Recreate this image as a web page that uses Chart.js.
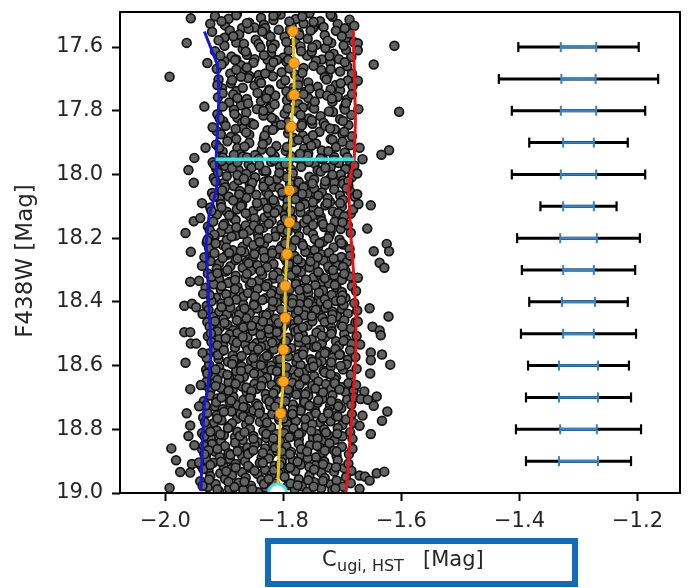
<!DOCTYPE html>
<html><head><meta charset="utf-8">
<script src="https://cdn.jsdelivr.net/npm/chart.js@4.4.1/dist/chart.umd.min.js"></script>
<style>html,body{margin:0;padding:0;background:#fff;}#wrap{width:692px;height:588px;position:relative;}</style>
</head><body><div id="wrap"><canvas id="c" width="692" height="588"></canvas></div>
<script>
// ---------- data ----------
const xTicks = [-2.0, -1.8, -1.6, -1.4, -1.2];
const yTicks = [17.6, 17.8, 18.0, 18.2, 18.4, 18.6, 18.8, 19.0];

// stars: [C_ugi,HST, F438W]
const starsUpper = [
[-1.924,17.527],[-1.916,17.503],[-1.899,17.532],[-1.893,17.511],[-1.879,17.496],[-1.858,17.524],[-1.849,17.539],[-1.838,17.508],[-1.833,17.530],[-1.817,17.515],[-1.805,17.498],[-1.786,17.535],[-1.779,17.512],[-1.766,17.526],[-1.756,17.494],[-1.738,17.519],[-1.732,17.537],[-1.717,17.505],[-1.708,17.528],[-1.688,17.514],[-1.680,17.533],[-1.870,17.540],[-1.812,17.491],[-1.748,17.536],
[-1.921,17.552],[-1.900,17.571],[-1.891,17.548],[-1.880,17.586],[-1.875,17.561],[-1.859,17.543],[-1.847,17.577],[-1.828,17.559],[-1.821,17.589],[-1.808,17.546],[-1.798,17.568],[-1.780,17.583],[-1.774,17.555],[-1.759,17.574],[-1.750,17.541],[-1.730,17.563],[-1.719,17.587],[-1.711,17.549],[-1.694,17.572],[-1.688,17.558],[-1.681,17.584],[-1.842,17.590],[-1.789,17.545],
[-1.916,17.613],[-1.900,17.596],[-1.888,17.630],[-1.869,17.607],[-1.862,17.624],[-1.849,17.638],[-1.839,17.601],[-1.821,17.619],[-1.815,17.592],[-1.800,17.633],[-1.791,17.611],[-1.771,17.598],[-1.760,17.627],[-1.752,17.615],[-1.735,17.639],[-1.729,17.603],[-1.715,17.621],[-1.694,17.609],[-1.685,17.631],[-1.880,17.639],[-1.827,17.640],[-1.744,17.593],[-1.706,17.638],
[-1.913,17.668],[-1.900,17.645],[-1.890,17.683],[-1.872,17.657],[-1.866,17.675],[-1.851,17.649],[-1.842,17.688],[-1.822,17.662],[-1.811,17.641],[-1.803,17.679],[-1.786,17.654],[-1.780,17.686],[-1.766,17.666],[-1.745,17.643],[-1.736,17.672],[-1.725,17.690],[-1.720,17.651],[-1.704,17.677],[-1.692,17.660],[-1.684,17.684],[-1.858,17.690],[-1.795,17.646],
[-1.910,17.702],[-1.904,17.729],[-1.889,17.714],[-1.880,17.738],[-1.860,17.697],[-1.849,17.721],[-1.841,17.706],[-1.824,17.733],[-1.818,17.692],[-1.804,17.716],[-1.783,17.728],[-1.774,17.699],[-1.763,17.740],[-1.758,17.711],[-1.742,17.725],[-1.730,17.694],[-1.711,17.719],[-1.704,17.736],[-1.691,17.705],[-1.683,17.723],[-1.872,17.693],[-1.795,17.739],[-1.720,17.733],
[-1.911,17.758],[-1.892,17.774],[-1.885,17.749],[-1.872,17.783],[-1.862,17.763],[-1.844,17.744],[-1.838,17.770],[-1.823,17.788],[-1.814,17.752],[-1.794,17.767],[-1.783,17.741],[-1.775,17.779],[-1.758,17.760],[-1.752,17.786],[-1.738,17.746],[-1.717,17.772],[-1.708,17.756],[-1.697,17.789],[-1.692,17.765],[-1.684,17.748],[-1.903,17.787],[-1.828,17.746],[-1.767,17.790],[-1.726,17.752],
[-1.912,17.811],[-1.902,17.833],[-1.884,17.797],[-1.878,17.822],[-1.863,17.806],[-1.854,17.839],[-1.834,17.815],[-1.823,17.792],[-1.815,17.829],[-1.798,17.809],[-1.792,17.836],[-1.778,17.801],[-1.757,17.824],[-1.748,17.793],[-1.737,17.817],[-1.732,17.838],[-1.716,17.804],[-1.704,17.827],[-1.685,17.813],[-1.845,17.795],[-1.768,17.840],[-1.696,17.796],[-1.870,17.838],
[-1.913,17.864],[-1.898,17.847],[-1.889,17.882],[-1.869,17.856],[-1.858,17.875],[-1.850,17.843],[-1.833,17.888],[-1.827,17.861],[-1.813,17.849],[-1.792,17.871],[-1.783,17.885],[-1.772,17.852],[-1.767,17.878],[-1.751,17.841],[-1.739,17.866],[-1.720,17.889],[-1.713,17.858],[-1.700,17.873],[-1.690,17.845],[-1.880,17.889],[-1.804,17.844],[-1.760,17.890],[-1.729,17.847],[-1.684,17.880],
[-1.914,17.906],[-1.903,17.928],[-1.895,17.896],[-1.878,17.917],[-1.872,17.936],[-1.858,17.901],[-1.837,17.922],[-1.828,17.893],[-1.817,17.938],[-1.812,17.911],[-1.796,17.926],[-1.784,17.898],[-1.765,17.919],[-1.758,17.934],[-1.745,17.903],[-1.735,17.925],[-1.717,17.891],[-1.711,17.914],[-1.696,17.931],[-1.687,17.908],[-1.848,17.939],[-1.775,17.892]
];
const starsMiddle = [
[-1.920,17.962],[-1.914,17.981],[-1.903,17.947],[-1.899,17.973],[-1.890,17.956],[-1.876,17.986],[-1.869,17.944],[-1.859,17.968],[-1.854,17.979],[-1.842,17.951],[-1.834,17.989],[-1.821,17.960],[-1.815,17.942],[-1.806,17.975],[-1.791,17.958],[-1.787,17.984],[-1.776,17.949],[-1.769,17.970],[-1.759,17.941],[-1.747,17.966],[-1.742,17.987],[-1.733,17.953],[-1.720,17.977],[-1.714,17.945],[-1.706,17.964],[-1.695,17.983],[-1.688,17.957],[-1.680,17.972],
[-1.918,18.011],[-1.911,17.994],[-1.901,18.027],[-1.896,18.005],[-1.884,18.036],[-1.876,18.018],[-1.863,17.998],[-1.857,18.031],[-1.848,18.009],[-1.833,18.024],[-1.829,17.992],[-1.818,18.039],[-1.811,18.014],[-1.801,18.003],[-1.789,18.029],[-1.784,17.996],[-1.775,18.021],[-1.762,18.037],[-1.756,18.007],[-1.748,18.016],[-1.737,17.991],[-1.730,18.033],[-1.720,18.012],[-1.714,18.025],[-1.703,18.000],[-1.699,18.019],[-1.690,18.035],[-1.684,18.008],
[-1.921,18.058],[-1.908,18.077],[-1.902,18.046],[-1.893,18.069],[-1.878,18.085],[-1.874,18.052],[-1.863,18.073],[-1.856,18.041],[-1.846,18.064],[-1.834,18.088],[-1.829,18.055],[-1.820,18.079],[-1.807,18.043],[-1.801,18.067],[-1.793,18.082],[-1.782,18.049],[-1.775,18.071],[-1.765,18.090],[-1.759,18.060],[-1.748,18.044],[-1.744,18.075],[-1.735,18.057],[-1.721,18.086],[-1.714,18.047],[-1.704,18.066],[-1.699,18.080],[-1.687,18.053],[-1.679,18.070],
[-1.924,18.104],[-1.913,18.126],[-1.906,18.093],[-1.896,18.117],[-1.884,18.138],[-1.879,18.109],[-1.870,18.096],[-1.857,18.131],[-1.851,18.114],[-1.843,18.099],[-1.832,18.135],[-1.825,18.121],[-1.815,18.091],[-1.809,18.111],[-1.798,18.128],[-1.794,18.102],[-1.785,18.139],[-1.771,18.119],[-1.764,18.094],[-1.754,18.125],[-1.749,18.107],[-1.737,18.133],[-1.729,18.097],[-1.716,18.116],[-1.710,18.137],[-1.701,18.101],[-1.686,18.123],[-1.682,18.110],
[-1.928,18.163],[-1.919,18.148],[-1.906,18.181],[-1.900,18.155],[-1.892,18.172],[-1.881,18.143],[-1.874,18.186],[-1.864,18.160],[-1.858,18.176],[-1.847,18.150],[-1.843,18.189],[-1.834,18.167],[-1.820,18.145],[-1.813,18.178],[-1.803,18.157],[-1.798,18.184],[-1.786,18.141],[-1.778,18.169],[-1.765,18.152],[-1.759,18.175],[-1.750,18.188],[-1.735,18.146],[-1.731,18.165],[-1.720,18.180],[-1.713,18.149],[-1.703,18.171],[-1.691,18.159],[-1.686,18.183],
[-1.930,18.214],[-1.926,18.232],[-1.917,18.197],[-1.903,18.221],[-1.896,18.206],[-1.886,18.238],[-1.881,18.192],[-1.869,18.227],[-1.861,18.210],[-1.848,18.235],[-1.842,18.200],[-1.833,18.218],[-1.818,18.239],[-1.814,18.195],[-1.803,18.224],[-1.796,18.208],[-1.786,18.230],[-1.774,18.193],[-1.769,18.216],[-1.760,18.236],[-1.747,18.203],[-1.741,18.226],[-1.733,18.211],[-1.722,18.191],[-1.715,18.229],[-1.705,18.205],[-1.699,18.220],[-1.688,18.234],
[-1.929,18.262],[-1.917,18.247],[-1.909,18.279],[-1.896,18.253],[-1.890,18.288],[-1.881,18.269],[-1.866,18.244],[-1.862,18.275],[-1.851,18.258],[-1.844,18.285],[-1.834,18.241],[-1.822,18.266],[-1.817,18.281],[-1.808,18.250],[-1.795,18.272],[-1.789,18.289],[-1.781,18.256],[-1.770,18.277],[-1.763,18.243],[-1.753,18.264],[-1.747,18.283],[-1.736,18.251],[-1.732,18.270],[-1.723,18.246],[-1.709,18.286],[-1.702,18.259],[-1.692,18.274],[-1.687,18.255],
[-1.928,18.311],[-1.913,18.296],[-1.909,18.328],[-1.898,18.305],[-1.891,18.337],[-1.881,18.318],[-1.869,18.293],[-1.864,18.324],[-1.855,18.302],[-1.842,18.333],[-1.836,18.314],[-1.828,18.291],[-1.817,18.327],[-1.810,18.308],[-1.800,18.339],[-1.794,18.299],[-1.783,18.320],[-1.779,18.335],[-1.770,18.306],[-1.756,18.292],[-1.749,18.323],[-1.739,18.313],[-1.734,18.338],[-1.722,18.297],[-1.714,18.317],[-1.701,18.331],[-1.695,18.303],[-1.686,18.321]
];
const starsLower = [
[-1.932,18.356],[-1.927,18.374],[-1.918,18.345],[-1.914,18.387],[-1.906,18.362],[-1.894,18.341],[-1.888,18.379],[-1.878,18.353],[-1.875,18.368],[-1.868,18.384],[-1.857,18.347],[-1.852,18.371],[-1.844,18.359],[-1.831,18.389],[-1.827,18.343],[-1.818,18.365],[-1.812,18.381],[-1.802,18.350],[-1.795,18.376],[-1.790,18.361],[-1.779,18.344],[-1.771,18.386],[-1.767,18.357],[-1.758,18.372],[-1.746,18.348],[-1.740,18.383],[-1.733,18.364],[-1.723,18.342],[-1.718,18.378],[-1.710,18.355],[-1.701,18.369],[-1.695,18.388],[-1.684,18.351],[-1.677,18.366],
[-1.930,18.412],[-1.922,18.398],[-1.909,18.431],[-1.905,18.405],[-1.896,18.439],[-1.890,18.418],[-1.880,18.393],[-1.873,18.426],[-1.868,18.409],[-1.857,18.436],[-1.849,18.401],[-1.845,18.421],[-1.836,18.394],[-1.824,18.433],[-1.818,18.415],[-1.811,18.403],[-1.801,18.428],[-1.796,18.391],[-1.788,18.417],[-1.779,18.438],[-1.773,18.407],[-1.762,18.424],[-1.755,18.396],[-1.750,18.413],[-1.741,18.435],[-1.737,18.400],[-1.729,18.419],[-1.717,18.430],[-1.711,18.397],[-1.701,18.422],[-1.698,18.410],[-1.691,18.437],[-1.680,18.404],[-1.675,18.427],
[-1.929,18.463],[-1.920,18.447],[-1.908,18.481],[-1.902,18.455],[-1.895,18.472],[-1.885,18.489],[-1.880,18.444],[-1.872,18.468],[-1.863,18.451],[-1.857,18.485],[-1.846,18.459],[-1.839,18.476],[-1.834,18.441],[-1.825,18.466],[-1.821,18.487],[-1.813,18.453],[-1.801,18.478],[-1.795,18.449],[-1.785,18.470],[-1.782,18.483],[-1.775,18.457],[-1.764,18.442],[-1.759,18.474],[-1.751,18.461],[-1.738,18.488],[-1.734,18.450],[-1.725,18.467],[-1.719,18.480],[-1.709,18.446],[-1.702,18.471],[-1.697,18.458],[-1.686,18.484],[-1.678,18.464],[-1.810,18.490],
[-1.928,18.508],[-1.922,18.526],[-1.912,18.493],[-1.909,18.517],[-1.902,18.538],[-1.891,18.502],[-1.886,18.521],[-1.878,18.497],[-1.865,18.533],[-1.861,18.511],[-1.852,18.491],[-1.846,18.529],[-1.836,18.515],[-1.829,18.536],[-1.824,18.499],[-1.813,18.522],[-1.805,18.506],[-1.801,18.539],[-1.792,18.513],[-1.780,18.494],[-1.774,18.527],[-1.767,18.504],[-1.757,18.534],[-1.752,18.518],[-1.744,18.496],[-1.735,18.530],[-1.729,18.510],[-1.718,18.492],[-1.711,18.524],[-1.706,18.537],[-1.697,18.501],[-1.693,18.519],[-1.685,18.532],[-1.676,18.507],
[-1.927,18.562],[-1.917,18.547],[-1.910,18.579],[-1.905,18.555],[-1.894,18.588],[-1.886,18.568],[-1.882,18.543],[-1.873,18.574],[-1.861,18.551],[-1.855,18.585],[-1.848,18.560],[-1.838,18.541],[-1.833,18.577],[-1.825,18.566],[-1.816,18.549],[-1.810,18.583],[-1.799,18.558],[-1.792,18.571],[-1.787,18.545],[-1.778,18.589],[-1.774,18.564],[-1.766,18.553],[-1.754,18.580],[-1.748,18.542],[-1.738,18.569],[-1.735,18.586],[-1.728,18.556],[-1.717,18.575],[-1.712,18.548],[-1.704,18.565],[-1.691,18.582],[-1.687,18.552],[-1.678,18.573],
[-1.931,18.613],[-1.926,18.597],[-1.918,18.631],[-1.909,18.606],[-1.903,18.624],[-1.892,18.639],[-1.885,18.592],[-1.880,18.618],[-1.871,18.603],[-1.867,18.635],[-1.859,18.611],[-1.847,18.594],[-1.841,18.627],[-1.831,18.609],[-1.828,18.638],[-1.821,18.600],[-1.810,18.621],[-1.805,18.593],[-1.797,18.629],[-1.784,18.615],[-1.780,18.636],[-1.771,18.598],[-1.765,18.622],[-1.755,18.607],[-1.748,18.633],[-1.743,18.591],[-1.732,18.617],[-1.724,18.626],[-1.720,18.604],[-1.711,18.637],[-1.699,18.612],[-1.693,18.596],[-1.686,18.628],[-1.676,18.610],
[-1.932,18.662],[-1.924,18.679],[-1.912,18.645],[-1.906,18.670],[-1.896,18.687],[-1.893,18.652],[-1.886,18.675],[-1.875,18.641],[-1.870,18.666],[-1.862,18.684],[-1.849,18.657],[-1.845,18.673],[-1.836,18.648],[-1.830,18.689],[-1.820,18.660],[-1.813,18.677],[-1.808,18.643],[-1.797,18.668],[-1.789,18.685],[-1.785,18.654],[-1.776,18.671],[-1.764,18.646],[-1.758,18.681],[-1.751,18.663],[-1.741,18.650],[-1.736,18.688],[-1.728,18.658],[-1.719,18.674],[-1.713,18.644],[-1.702,18.667],[-1.695,18.683],[-1.690,18.655],[-1.681,18.678],[-1.677,18.661],
[-1.935,18.712],[-1.924,18.694],[-1.916,18.728],[-1.912,18.703],[-1.903,18.737],[-1.891,18.716],[-1.885,18.698],[-1.878,18.724],[-1.868,18.708],[-1.863,18.733],[-1.855,18.692],[-1.846,18.719],[-1.840,18.740],[-1.829,18.705],[-1.822,18.726],[-1.817,18.697],[-1.808,18.714],[-1.804,18.735],[-1.796,18.701],[-1.784,18.722],[-1.778,18.691],[-1.768,18.730],[-1.765,18.710],[-1.758,18.696],[-1.747,18.738],[-1.742,18.717],[-1.734,18.704],[-1.721,18.727],[-1.717,18.693],[-1.708,18.720],[-1.702,18.734],[-1.692,18.707],[-1.685,18.723],[-1.680,18.700],
[-1.936,18.763],[-1.929,18.748],[-1.918,18.781],[-1.913,18.756],[-1.905,18.772],[-1.892,18.789],[-1.888,18.744],[-1.879,18.767],[-1.873,18.751],[-1.863,18.785],[-1.856,18.759],[-1.851,18.741],[-1.840,18.776],[-1.832,18.764],[-1.828,18.787],[-1.819,18.753],[-1.807,18.770],[-1.801,18.746],[-1.794,18.783],[-1.784,18.758],[-1.779,18.774],[-1.771,18.742],[-1.762,18.788],[-1.756,18.761],[-1.745,18.750],[-1.738,18.779],[-1.733,18.766],[-1.724,18.743],[-1.720,18.775],[-1.712,18.757],[-1.700,18.786],[-1.694,18.769],[-1.684,18.752],[-1.681,18.780],
[-1.938,18.812],[-1.929,18.795],[-1.923,18.829],[-1.913,18.804],[-1.906,18.837],[-1.901,18.818],[-1.890,18.792],[-1.882,18.825],[-1.878,18.808],[-1.869,18.834],[-1.857,18.799],[-1.851,18.821],[-1.844,18.840],[-1.834,18.806],[-1.829,18.827],[-1.821,18.793],[-1.812,18.815],[-1.806,18.838],[-1.795,18.802],[-1.788,18.823],[-1.783,18.797],[-1.774,18.831],[-1.770,18.810],[-1.762,18.791],[-1.750,18.826],[-1.744,18.814],[-1.734,18.836],[-1.731,18.800],[-1.724,18.819],[-1.713,18.833],[-1.708,18.796],[-1.700,18.822],[-1.687,18.809],[-1.683,18.830],
[-1.938,18.862],[-1.931,18.879],[-1.921,18.846],[-1.916,18.870],[-1.908,18.887],[-1.899,18.853],[-1.893,18.875],[-1.882,18.842],[-1.875,18.866],[-1.870,18.884],[-1.861,18.857],[-1.857,18.873],[-1.849,18.848],[-1.837,18.889],[-1.831,18.860],[-1.821,18.877],[-1.818,18.843],[-1.811,18.868],[-1.800,18.885],[-1.795,18.854],[-1.787,18.871],[-1.774,18.845],[-1.770,18.881],[-1.761,18.863],[-1.755,18.850],[-1.745,18.888],[-1.738,18.858],[-1.733,18.874],[-1.722,18.844],[-1.714,18.867],[-1.710,18.883],[-1.701,18.855],[-1.689,18.878],[-1.683,18.861],
[-1.940,18.913],[-1.931,18.896],[-1.927,18.929],[-1.919,18.905],[-1.907,18.938],[-1.901,18.918],[-1.891,18.893],[-1.888,18.924],[-1.881,18.909],[-1.870,18.935],[-1.865,18.900],[-1.857,18.921],[-1.844,18.940],[-1.840,18.906],[-1.831,18.927],[-1.825,18.892],[-1.815,18.915],[-1.808,18.937],[-1.803,18.903],[-1.792,18.923],[-1.784,18.898],[-1.780,18.931],[-1.771,18.911],[-1.759,18.891],[-1.753,18.926],[-1.746,18.914],[-1.736,18.936],[-1.731,18.901],[-1.723,18.920],[-1.714,18.933],[-1.708,18.897],[-1.697,18.922],[-1.690,18.908],[-1.685,18.930],
[-1.941,18.963],[-1.928,18.981],[-1.924,18.947],[-1.915,18.972],[-1.909,18.995],[-1.899,18.955],[-1.892,18.986],[-1.887,18.944],[-1.876,18.968],[-1.868,18.990],[-1.864,18.952],[-1.855,18.977],[-1.843,18.998],[-1.837,18.959],[-1.830,18.983],[-1.820,18.942],[-1.815,18.970],[-1.807,18.993],[-1.798,18.949],[-1.792,18.975],[-1.781,18.988],[-1.774,18.957],[-1.769,18.979],[-1.760,18.996],[-1.756,18.946],[-1.748,18.966],[-1.736,18.985],[-1.730,18.953],[-1.720,18.973],[-1.717,18.991],[-1.710,18.961],[-1.699,18.980],[-1.694,18.950],[-1.686,18.969]
];
const starsExtra = [
[-1.905,17.519],[-1.880,17.500],[-1.862,17.525],[-1.831,17.540],[-1.817,17.502],[-1.790,17.520],[-1.768,17.504],[-1.749,17.521],[-1.720,17.499],[-1.696,17.541],
[-1.910,17.579],[-1.885,17.566],[-1.867,17.590],[-1.836,17.551],[-1.822,17.567],[-1.795,17.584],[-1.773,17.562],[-1.754,17.548],[-1.725,17.580],[-1.701,17.566],
[-1.907,17.627],[-1.882,17.641],[-1.864,17.614],[-1.833,17.626],[-1.819,17.604],[-1.792,17.640],[-1.770,17.613],[-1.751,17.601],[-1.722,17.628],[-1.698,17.595],
[-1.905,17.655],[-1.880,17.671],[-1.862,17.664],[-1.831,17.683],[-1.817,17.648],[-1.790,17.667],[-1.768,17.681],[-1.749,17.659],[-1.720,17.670],[-1.696,17.648],
[-1.912,17.719],[-1.887,17.704],[-1.869,17.728],[-1.838,17.713],[-1.824,17.737],[-1.797,17.704],[-1.775,17.719],[-1.756,17.731],[-1.727,17.702],[-1.703,17.714],
[-1.903,17.745],[-1.878,17.760],[-1.860,17.777],[-1.829,17.761],[-1.815,17.780],[-1.788,17.755],[-1.766,17.748],[-1.747,17.771],[-1.718,17.762],[-1.694,17.776],
[-1.908,17.824],[-1.883,17.810],[-1.865,17.831],[-1.834,17.800],[-1.820,17.822],[-1.793,17.793],[-1.771,17.813],[-1.752,17.830],[-1.723,17.802],[-1.699,17.832],
[-1.906,17.874],[-1.881,17.857],[-1.863,17.868],[-1.832,17.878],[-1.818,17.860],[-1.791,17.857],[-1.769,17.846],[-1.750,17.877],[-1.721,17.856],[-1.697,17.866],
[-1.909,17.917],[-1.884,17.938],[-1.866,17.912],[-1.835,17.905],[-1.821,17.928],[-1.794,17.914],[-1.772,17.935],[-1.753,17.910],[-1.724,17.927],[-1.700,17.897],
[-1.917,17.970],[-1.905,17.958],[-1.887,17.980],[-1.878,17.962],[-1.862,17.947],[-1.841,17.971],[-1.830,17.988],[-1.816,17.955],[-1.797,17.967],[-1.787,17.943],[-1.770,17.976],[-1.757,17.961],[-1.737,17.950],[-1.729,17.979],[-1.714,17.955],[-1.692,17.946],
[-1.915,18.022],[-1.899,18.040],[-1.878,18.002],[-1.867,18.013],[-1.853,18.026],[-1.834,18.038],[-1.824,18.020],[-1.807,17.995],[-1.794,18.010],[-1.774,18.025],[-1.766,18.040],[-1.751,18.028],[-1.729,18.021],[-1.717,18.001],[-1.699,18.029],[-1.690,18.021],
[-1.918,18.069],[-1.904,18.050],[-1.885,18.082],[-1.875,18.062],[-1.858,18.047],[-1.845,18.090],[-1.825,18.065],[-1.817,18.080],[-1.802,18.056],[-1.780,18.078],[-1.768,18.061],[-1.750,18.087],[-1.741,18.066],[-1.725,18.075],[-1.704,18.090],[-1.693,18.043],
[-1.922,18.115],[-1.905,18.103],[-1.892,18.128],[-1.872,18.100],[-1.864,18.122],[-1.849,18.138],[-1.827,18.106],[-1.815,18.120],[-1.797,18.140],[-1.788,18.113],[-1.772,18.101],[-1.751,18.129],[-1.740,18.117],[-1.726,18.090],[-1.707,18.121],[-1.697,18.131],
[-1.925,18.175],[-1.917,18.189],[-1.902,18.160],[-1.880,18.166],[-1.868,18.187],[-1.850,18.160],[-1.841,18.172],[-1.825,18.155],[-1.804,18.170],[-1.793,18.179],[-1.779,18.161],[-1.760,18.141],[-1.750,18.159],[-1.733,18.156],[-1.720,18.168],[-1.700,18.150],
[-1.927,18.201],[-1.915,18.217],[-1.897,18.229],[-1.888,18.195],[-1.872,18.240],[-1.851,18.222],[-1.840,18.212],[-1.826,18.200],[-1.807,18.235],[-1.797,18.217],[-1.780,18.206],[-1.767,18.223],[-1.747,18.237],[-1.739,18.216],[-1.724,18.200],[-1.702,18.215],
[-1.924,18.272],[-1.903,18.262],[-1.892,18.246],[-1.878,18.264],[-1.859,18.279],[-1.849,18.250],[-1.832,18.262],[-1.819,18.247],[-1.799,18.260],[-1.791,18.282],[-1.776,18.267],[-1.754,18.273],[-1.742,18.260],[-1.724,18.289],[-1.715,18.264],[-1.699,18.290],
[-1.922,18.321],[-1.912,18.310],[-1.895,18.300],[-1.882,18.331],[-1.862,18.312],[-1.854,18.340],[-1.839,18.303],[-1.817,18.316],[-1.805,18.329],[-1.787,18.316],[-1.778,18.300],[-1.762,18.330],[-1.741,18.306],[-1.730,18.326],[-1.716,18.300],[-1.697,18.312],
[-1.925,18.379],[-1.905,18.350],[-1.897,18.376],[-1.882,18.360],[-1.860,18.372],[-1.848,18.382],[-1.830,18.352],[-1.821,18.374],[-1.805,18.364],[-1.784,18.390],[-1.773,18.363],[-1.759,18.358],[-1.740,18.371],[-1.730,18.392],[-1.713,18.347],[-1.700,18.379],
[-1.927,18.425],[-1.905,18.416],[-1.893,18.399],[-1.875,18.440],[-1.866,18.421],[-1.850,18.410],[-1.829,18.441],[-1.818,18.398],[-1.804,18.423],[-1.785,18.404],[-1.775,18.427],[-1.758,18.404],[-1.745,18.425],[-1.725,18.408],[-1.717,18.440],[-1.702,18.395],
[-1.925,18.477],[-1.916,18.461],[-1.900,18.466],[-1.879,18.458],[-1.868,18.480],[-1.854,18.475],[-1.835,18.462],[-1.825,18.486],[-1.808,18.466],[-1.795,18.461],[-1.775,18.488],[-1.767,18.480],[-1.752,18.445],[-1.730,18.463],[-1.718,18.455],[-1.700,18.477],
[-1.923,18.499],[-1.912,18.536],[-1.898,18.514],[-1.879,18.528],[-1.869,18.510],[-1.852,18.540],[-1.839,18.503],[-1.819,18.528],[-1.811,18.495],[-1.796,18.523],[-1.774,18.511],[-1.762,18.520],[-1.744,18.540],[-1.735,18.506],[-1.719,18.500],[-1.698,18.522],
[-1.930,18.576],[-1.911,18.567],[-1.901,18.552],[-1.884,18.581],[-1.871,18.570],[-1.851,18.576],[-1.843,18.549],[-1.828,18.570],[-1.806,18.580],[-1.794,18.552],[-1.776,18.575],[-1.767,18.565],[-1.751,18.587],[-1.730,18.561],[-1.719,18.590],[-1.705,18.566],
[-1.928,18.622],[-1.915,18.612],[-1.895,18.629],[-1.887,18.595],[-1.872,18.616],[-1.850,18.625],[-1.838,18.599],[-1.820,18.614],[-1.811,18.618],[-1.795,18.605],[-1.774,18.622],[-1.763,18.641],[-1.749,18.603],[-1.730,18.622],[-1.720,18.627],[-1.703,18.601],
[-1.930,18.650],[-1.915,18.664],[-1.893,18.679],[-1.881,18.657],[-1.863,18.669],[-1.854,18.680],[-1.838,18.664],[-1.817,18.687],[-1.806,18.651],[-1.792,18.676],[-1.773,18.660],[-1.763,18.690],[-1.746,18.672],[-1.733,18.684],[-1.713,18.656],[-1.705,18.675],
[-1.932,18.725],[-1.914,18.715],[-1.905,18.700],[-1.889,18.710],[-1.868,18.730],[-1.857,18.702],[-1.843,18.726],[-1.824,18.713],[-1.814,18.729],[-1.797,18.712],[-1.784,18.739],[-1.764,18.715],[-1.756,18.726],[-1.741,18.709],[-1.719,18.711],[-1.707,18.728],
[-1.933,18.778],[-1.912,18.766],[-1.901,18.745],[-1.887,18.781],[-1.868,18.760],[-1.858,18.771],[-1.841,18.750],[-1.828,18.779],[-1.808,18.761],[-1.800,18.767],[-1.785,18.752],[-1.763,18.768],[-1.751,18.784],[-1.733,18.764],[-1.724,18.750],[-1.708,18.760],
[-1.934,18.822],[-1.924,18.808],[-1.907,18.816],[-1.894,18.796],[-1.874,18.821],[-1.866,18.809],[-1.851,18.830],[-1.829,18.815],[-1.817,18.828],[-1.799,18.812],[-1.790,18.825],[-1.774,18.815],[-1.753,18.805],[-1.742,18.829],[-1.728,18.810],[-1.709,18.814],
[-1.935,18.852],[-1.927,18.866],[-1.912,18.862],[-1.890,18.880],[-1.878,18.869],[-1.860,18.878],[-1.851,18.866],[-1.835,18.874],[-1.814,18.858],[-1.803,18.869],[-1.789,18.878],[-1.770,18.862],[-1.760,18.870],[-1.743,18.852],[-1.730,18.867],[-1.710,18.870],
[-1.936,18.925],[-1.924,18.912],[-1.906,18.902],[-1.897,18.932],[-1.881,18.920],[-1.860,18.915],[-1.849,18.930],[-1.835,18.905],[-1.816,18.928],[-1.806,18.912],[-1.789,18.920],[-1.776,18.902],[-1.756,18.918],[-1.748,18.926],[-1.733,18.910],[-1.711,18.919],
[-1.937,18.977],[-1.926,18.958],[-1.912,18.988],[-1.893,18.965],[-1.883,18.981],[-1.866,18.965],[-1.853,18.988],[-1.833,18.972],[-1.825,18.956],[-1.810,18.983],[-1.788,18.970],[-1.776,18.976],[-1.758,18.960],[-1.749,18.980],[-1.733,18.962],[-1.712,18.986]
];
const starsOutliers = [
[-1.957,17.510],[-1.964,17.587],[-1.993,17.693],[-1.929,17.650],[-1.934,17.787],[-1.920,17.852],[-1.932,17.916],[-1.951,17.948],[-1.961,17.986],[-1.952,18.026],[-1.938,18.090],[-1.952,18.147],[-1.941,18.137],[-1.966,18.184],[-1.929,18.207],[-1.957,18.243],[-1.934,18.260],[-1.938,18.287],[-1.958,18.337],[-1.943,18.334],[-1.936,18.375],[-1.968,18.412],[-1.955,18.406],[-1.948,18.417],[-1.937,18.438],[-1.968,18.495],[-1.958,18.495],[-1.957,18.531],[-1.948,18.531],[-1.937,18.560],[-1.966,18.591],[-1.929,18.625],[-1.958,18.674],[-1.940,18.661],[-1.943,18.728],[-1.964,18.750],[-1.958,18.788],[-1.961,18.821],[-1.951,18.850],[-1.990,18.860],[-1.982,18.897],[-1.975,18.934],[-1.958,18.936],[-1.955,18.909],[-1.943,18.904],[-1.993,18.984],[-1.934,18.878],
[-1.612,17.596],[-1.647,17.655],[-1.604,17.803],[-1.621,17.924],[-1.634,17.938],[-1.666,17.952],[-1.671,17.916],[-1.674,17.588],[-1.674,17.610],[-1.674,17.706],[-1.673,17.795],[-1.675,17.997],[-1.675,18.062],[-1.673,18.093],[-1.652,18.097],[-1.658,18.170],[-1.625,18.218],[-1.647,18.241],[-1.621,18.241],[-1.637,18.277],[-1.629,18.293],[-1.674,18.324],[-1.654,18.420],[-1.622,18.446],[-1.674,18.462],[-1.649,18.478],[-1.637,18.490],[-1.635,18.505],[-1.670,18.534],[-1.652,18.559],[-1.633,18.565],[-1.652,18.583],[-1.619,18.597],[-1.653,18.625],[-1.663,18.681],[-1.642,18.697],[-1.669,18.705],[-1.657,18.707],[-1.647,18.726],[-1.624,18.744],[-1.666,18.757],[-1.633,18.773],[-1.671,18.789],[-1.652,18.815],[-1.671,18.945],[-1.662,18.948],[-1.654,18.961],[-1.642,18.938],[-1.629,18.933],[-1.671,18.987]
];

// blue and red envelope lines
const blueX = [-1.934,-1.912,-1.909,-1.912,-1.914,-1.912,-1.916,-1.926,-1.931,-1.929,-1.927,-1.923,-1.923,-1.929,-1.934,-1.936,-1.940];
const blueY = [17.551,17.655,17.754,17.858,17.952,18.025,18.066,18.128,18.213,18.296,18.390,18.525,18.577,18.681,18.722,18.785,18.994];
const redX = [-1.682,-1.680,-1.678,-1.680,-1.685,-1.690,-1.688,-1.686,-1.684,-1.677,-1.677,-1.680,-1.684,-1.688,-1.692,-1.694];
const redY = [17.546,17.671,17.827,17.952,17.994,18.046,18.108,18.192,18.228,18.437,18.541,18.645,18.749,18.853,18.957,18.999];
// fiducial ridge line (orange points) and its end point (cyan marker)
const ridgeX = [-1.784,-1.782,-1.782,-1.787,-1.790,-1.790,-1.794,-1.797,-1.797,-1.800,-1.800,-1.805];
const ridgeY = [17.55,17.65,17.75,17.85,18.05,18.15,18.25,18.35,18.45,18.55,18.65,18.75];
const ridgeEnd = [-1.810, 19.0];
// cyan horizontal segment
const cyanX = [-1.915, -1.680];
const cyanY = 17.952;
// error bars on the right
const errMag = [17.6,17.7,17.8,17.9,18.0,18.1,18.2,18.3,18.4,18.5,18.6,18.7,18.8,18.9];
const errCenter = -1.30;
const errBlack = [0.102,0.135,0.113,0.0835,0.113,0.0645,0.104,0.096,0.0835,0.0975,0.0855,0.089,0.106,0.089];
const errBlue  = [0.030,0.029,0.030,0.026,0.030,0.026,0.031,0.026,0.028,0.026,0.033,0.033,0.031,0.033];

// ---------- chart ----------
const FONT = 'DejaVu Sans';
const pts = (xs, ys) => xs.map((v, i) => ({x: v, y: ys[i]}));
const allStars = starsUpper.concat(starsMiddle, starsLower, starsExtra, starsOutliers).map(p => ({x: p[0], y: p[1]}));
const fmt = v => (v < 0 ? '\u2212' : '') + Math.abs(v).toFixed(1);

const overlay = {
  id: 'overlay',
  afterDatasetsDraw(chart) {
    const {ctx, chartArea: a, scales: {x, y}} = chart;
    ctx.save();
    ctx.beginPath(); ctx.rect(a.left, a.top, a.right - a.left, a.bottom - a.top); ctx.clip();
    const seg = (x1, y1, x2, y2) => { ctx.beginPath(); ctx.moveTo(x1, y1); ctx.lineTo(x2, y2); ctx.stroke(); };
    errMag.forEach((m, i) => {
      const py = y.getPixelForValue(m);
      const bl = x.getPixelForValue(errCenter - errBlack[i]), br = x.getPixelForValue(errCenter + errBlack[i]);
      const ul = x.getPixelForValue(errCenter - errBlue[i]), ur = x.getPixelForValue(errCenter + errBlue[i]);
      ctx.strokeStyle = '#000'; ctx.lineWidth = 3; seg(bl, py, br, py);
      ctx.lineWidth = 2.2; seg(bl, py - 5, bl, py + 5); seg(br, py - 5, br, py + 5);
      ctx.strokeStyle = '#3483c4'; ctx.lineWidth = 2.5; seg(ul, py, ur, py);
      ctx.lineWidth = 2; seg(ul, py - 5, ul, py + 5); seg(ur, py - 5, ur, py + 5);
    });
    ctx.restore();
    ctx.save();
    ctx.strokeStyle = '#000'; ctx.lineWidth = 2;
    ctx.strokeRect(a.left, a.top, a.right - a.left, a.bottom - a.top);
    ctx.restore();
  },
  afterDraw(chart) {
    const ctx = chart.ctx;
    ctx.save();
    ctx.fillStyle = '#262626';
    ctx.translate(26, 261); ctx.rotate(-Math.PI / 2);
    ctx.font = '23px "' + FONT + '"'; ctx.textAlign = 'center'; ctx.textBaseline = 'middle';
    ctx.fillText('F438W [Mag]', 0, 0);
    ctx.restore();
    ctx.save();
    ctx.strokeStyle = '#136cb8'; ctx.lineWidth = 6;
    ctx.strokeRect(268, 541, 307, 43);
    ctx.fillStyle = '#262626'; ctx.textBaseline = 'alphabetic'; ctx.textAlign = 'left';
    ctx.font = '21px "' + FONT + '"'; ctx.fillText('C', 322, 566);
    ctx.font = '16px "' + FONT + '"'; ctx.fillText('ugi, HST', 337, 571);
    ctx.font = '21px "' + FONT + '"'; ctx.fillText('[Mag]', 423, 566);
    ctx.restore();
  }
};

const tickFont = {family: FONT, size: 21};
new Chart(document.getElementById('c'), {
  type: 'scatter',
  data: {
    datasets: [
      {data: [{x: ridgeEnd[0], y: ridgeEnd[1]}], pointRadius: 9, pointBorderWidth: 3, pointBackgroundColor: '#ffffff', pointBorderColor: '#45e3e3', order: 0, clip: 0},
      {data: pts(ridgeX, ridgeY), pointRadius: 5.3, pointBorderWidth: 1, pointBackgroundColor: '#ffa21c', pointBorderColor: '#b86e00', order: 1, clip: 0},
      {data: pts(ridgeX, ridgeY).concat([{x: ridgeEnd[0], y: ridgeEnd[1]}]), showLine: true, pointRadius: 0, borderColor: '#e3c21e', borderWidth: 3, order: 2, clip: 0},
      {data: [{x: cyanX[0], y: cyanY}, {x: cyanX[1], y: cyanY}], showLine: true, pointRadius: 0, borderColor: '#3fe2e2', borderWidth: 3.5, order: 3, clip: 0},
      {data: pts(redX, redY), showLine: true, pointRadius: 0, borderColor: '#e8141c', borderWidth: 3, order: 4, clip: 0},
      {data: pts(blueX, blueY), showLine: true, pointRadius: 0, borderColor: '#1818d2', borderWidth: 3, order: 5, clip: 0},
      {data: allStars, pointRadius: 4.4, pointBorderWidth: 1.7, pointBackgroundColor: '#626262', pointBorderColor: '#121212', order: 10, clip: 0}
    ]
  },
  options: {
    responsive: false, animation: false, devicePixelRatio: 1, events: [],
    layout: {padding: {left: 0, right: 7, top: 9, bottom: 0}},
    plugins: {legend: {display: false}, tooltip: {enabled: false}, title: {display: false}},
    elements: {line: {tension: 0}},
    scales: {
      x: {
        type: 'linear', min: -2.077, max: -1.128,
        afterBuildTicks: s => { s.ticks = xTicks.map(v => ({value: v})); },
        afterFit: s => { s.height = 95; s.paddingLeft = 0; s.paddingRight = 0; },
        ticks: {callback: v => fmt(v), font: tickFont, color: '#262626', padding: 8, maxRotation: 0, autoSkip: false},
        grid: {display: true, drawOnChartArea: false, drawTicks: true, tickLength: 8, tickWidth: 2, tickColor: '#000'},
        border: {display: false}
      },
      y: {
        type: 'linear', reverse: true, min: 17.49, max: 19.0,
        afterBuildTicks: s => { s.ticks = yTicks.map(v => ({value: v})); },
        afterFit: s => { s.width = 120; s.paddingTop = 0; s.paddingBottom = 0; },
        ticks: {callback: v => v.toFixed(1), font: tickFont, color: '#262626', padding: 9, autoSkip: false},
        grid: {display: true, drawOnChartArea: false, drawTicks: true, tickLength: 8, tickWidth: 2, tickColor: '#000'},
        border: {display: false}
      }
    }
  },
  plugins: [overlay]
});
</script></body></html>
